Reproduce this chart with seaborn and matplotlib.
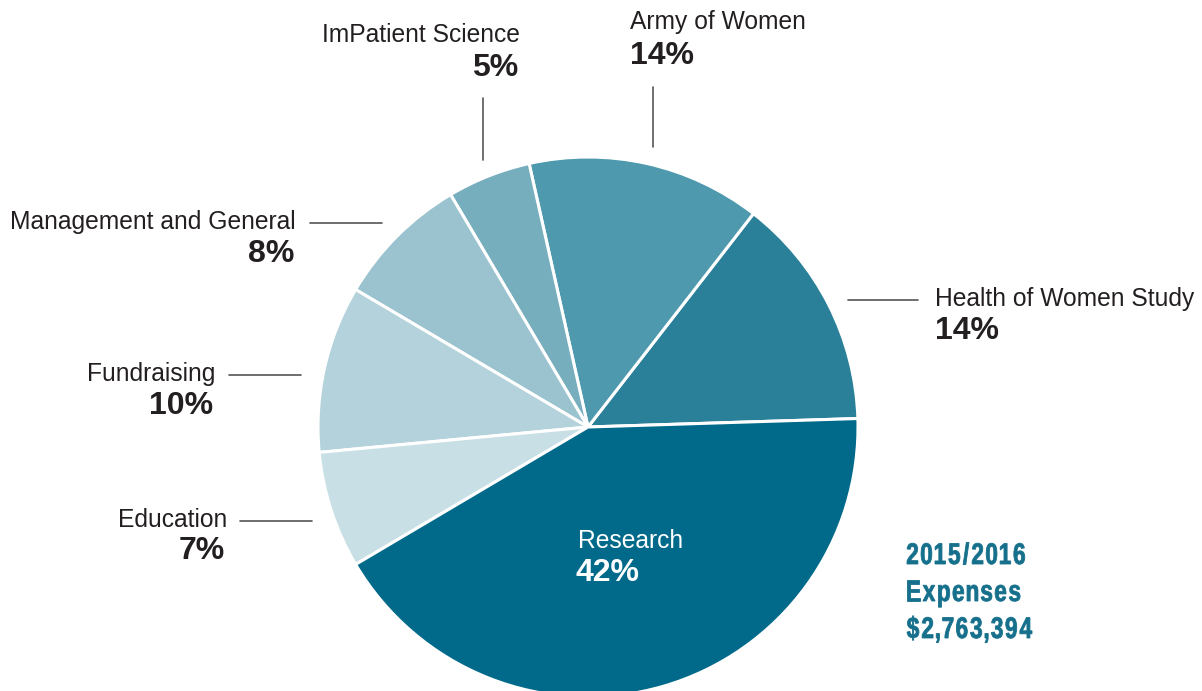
import matplotlib
matplotlib.use("Agg")
import matplotlib.pyplot as plt
import seaborn as sns
from matplotlib.textpath import TextPath
from matplotlib.patches import PathPatch
from matplotlib.font_manager import FontProperties
from matplotlib.transforms import Affine2D

# -------------------------
# Data
# -------------------------
categories = ["Health of Women Study", "Army of Women", "ImPatient Science",
              "Management and General", "Fundraising", "Education", "Research"]
shares = [14, 14, 5, 8, 10, 7, 42]
pct_labels = ["14%", "14%", "5%", "8%", "10%", "7%", "42%"]
colors = ["#2b8099", "#4e99ad", "#76aebd", "#9ac3cf", "#b4d2db", "#c8dfe5", "#016a8a"]
title_lines = ["2015/2016", "Expenses", "$2,763,394"]

sns.set_style("white")
plt.rcParams["font.family"] = ["Liberation Sans", "DejaVu Sans"]

W, H = 1202, 691
fig = plt.figure(figsize=(W / 100, H / 100), dpi=100)
ax = fig.add_axes([0, 0, 1, 1])


def Y(y):
    # image row -> data y
    return H - y


cx, cy, r = 588, 427, 270
ax.pie(shares, colors=colors, startangle=1.8, counterclock=True,
       center=(cx, Y(cy)), radius=r, frame=True,
       wedgeprops=dict(edgecolor="white", linewidth=2.2))
ax.set_xlim(0, W)
ax.set_ylim(0, H)
ax.set_aspect("equal")
ax.axis("off")

txt = "#231f20"
line_c = "#555555"
name_fs, pct_fs = 17.7, 23

# label placements (name x, name y, pct y, alignment)
place = {
    "Health of Women Study": (935, 299, 331, "left"),
    "Army of Women": (630, 22, 56, "left"),
    "ImPatient Science": (520, 35, 68, "right"),
    "Management and General": (296, 222, 254, "right"),
    "Fundraising": (215, 374, 406, "right"),
    "Education": (227, 520, 551, "right"),
}
for name, pct in zip(categories, pct_labels):
    if name not in place:
        continue
    x, y1, y2, ha = place[name]
    ax.text(x, Y(y1), name, ha=ha, va="center", fontsize=name_fs, color=txt)
    ax.text(x - (2 if ha == "right" else 0), Y(y2), pct, ha=ha, va="center",
            fontsize=pct_fs, fontweight="bold", color=txt)

# leader lines
ax.plot([483, 483], [Y(98), Y(160)], color=line_c, lw=1.2)
ax.plot([653, 653], [Y(87), Y(147)], color=line_c, lw=1.2)
ax.plot([310, 382], [Y(223), Y(223)], color=line_c, lw=1.2)
ax.plot([848, 918], [Y(300), Y(300)], color=line_c, lw=1.2)
ax.plot([229, 301], [Y(375), Y(375)], color=line_c, lw=1.2)
ax.plot([240, 312], [Y(521), Y(521)], color=line_c, lw=1.2)

# research label inside the slice
ax.text(578, Y(541), "Research", ha="left", va="center", fontsize=name_fs, color="white")
ax.text(576, Y(573), pct_labels[-1], ha="left", va="center", fontsize=pct_fs,
        fontweight="bold", color="white")

# title block: condensed bold look -> squeeze each glyph and track them apart
fp = FontProperties(family="Liberation Sans", weight="bold")
sx, size = 0.76, 29.8


def glyphs(s):
    return [TextPath((0, 0), ch, size=size, prop=fp) for ch in s]


# pick the gap so the last line is ~125 px wide
g3 = glyphs(title_lines[-1])
ink = sum(p.get_extents().width * sx for p in g3)
gap = (125 - ink) / (len(g3) - 1)

baselines = [564, 601, 638]
for s, b in zip(title_lines, baselines):
    x = 907
    for p in glyphs(s):
        e = p.get_extents()
        tr = Affine2D().scale(sx, 1).translate(x - e.x0 * sx, Y(b))
        ax.add_patch(PathPatch(tr.transform_path(p), facecolor="#16708c",
                               edgecolor="#16708c", lw=0.6))
        x += e.width * sx + gap

fig.savefig("out.png", dpi=100)
